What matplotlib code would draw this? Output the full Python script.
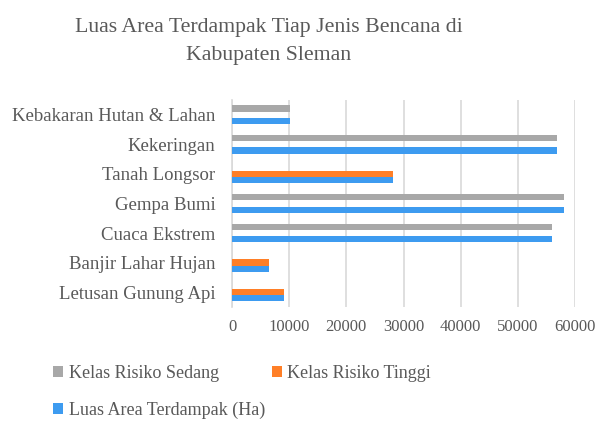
import matplotlib.pyplot as plt
import numpy as np

categories = ["Letusan Gunung Api", "Banjir Lahar Hujan", "Cuaca Ekstrem", "Gempa Bumi",
              "Tanah Longsor", "Kekeringan", "Kebakaran Hutan & Lahan"]
luas_area = [9050, 6500, 55900, 58100, 28100, 56900, 10200]
risiko_tinggi = [9050, 6500, 0, 0, 28100, 0, 0]
risiko_sedang = [0, 0, 55900, 58100, 0, 56900, 10200]
xticks = [0, 10000, 20000, 30000, 40000, 50000, 60000]

text_color = "#595959"
plt.rcParams["font.family"] = ["Liberation Serif", "DejaVu Serif"]

fig = plt.figure(figsize=(6.05, 4.21), dpi=100)
ax = fig.add_axes([0.3835, 0.271, 0.567, 0.4915])

y = np.arange(len(categories))
w = 0.21
ax.barh(y - w, luas_area, height=w, color="#3D9BF0", label="Luas Area Terdampak (Ha)", zorder=3)
ax.barh(y, risiko_tinggi, height=w, color="#FF7F27", label="Kelas Risiko Tinggi", zorder=3)
ax.barh(y + w, risiko_sedang, height=w, color="#A8A8A8", label="Kelas Risiko Sedang", zorder=3)

ax.set_xlim(0, 60000)
ax.set_ylim(-0.5, len(categories) - 0.5)
ax.set_xticks(xticks)
ax.set_xticklabels([str(t) for t in xticks])
ax.set_yticks(y)
ax.set_yticklabels(categories)
ax.tick_params(axis="both", length=0, colors=text_color)
ax.tick_params(axis="y", labelsize=13.5, pad=12)
ax.tick_params(axis="x", labelsize=12, pad=9)
ax.grid(axis="x", color="#D9D9D9", linewidth=1.2, zorder=0)
for s in ["top", "right", "bottom"]:
    ax.spines[s].set_visible(False)
ax.spines["left"].set_color("#D9D9D9")
ax.spines["left"].set_linewidth(1.2)

fig.suptitle("Luas Area Terdampak Tiap Jenis Bencana di\nKabupaten Sleman",
             x=0.444, y=0.957, va="top", fontsize=15.7, color=text_color, linespacing=1.6)

handles, labels = ax.get_legend_handles_labels()
# column-wise fill: Sedang, Luas | Tinggi
order = [2, 0, 1]
fig.legend([handles[i] for i in order], [labels[i] for i in order],
           loc="upper left", bbox_to_anchor=(0.076, 0.15), ncol=2, frameon=False,
           fontsize=13, labelcolor=text_color, handlelength=0.55, handleheight=0.55,
           handletextpad=0.3, columnspacing=0.4, labelspacing=1.1, borderaxespad=0)

fig.savefig("out.png", dpi=100)
